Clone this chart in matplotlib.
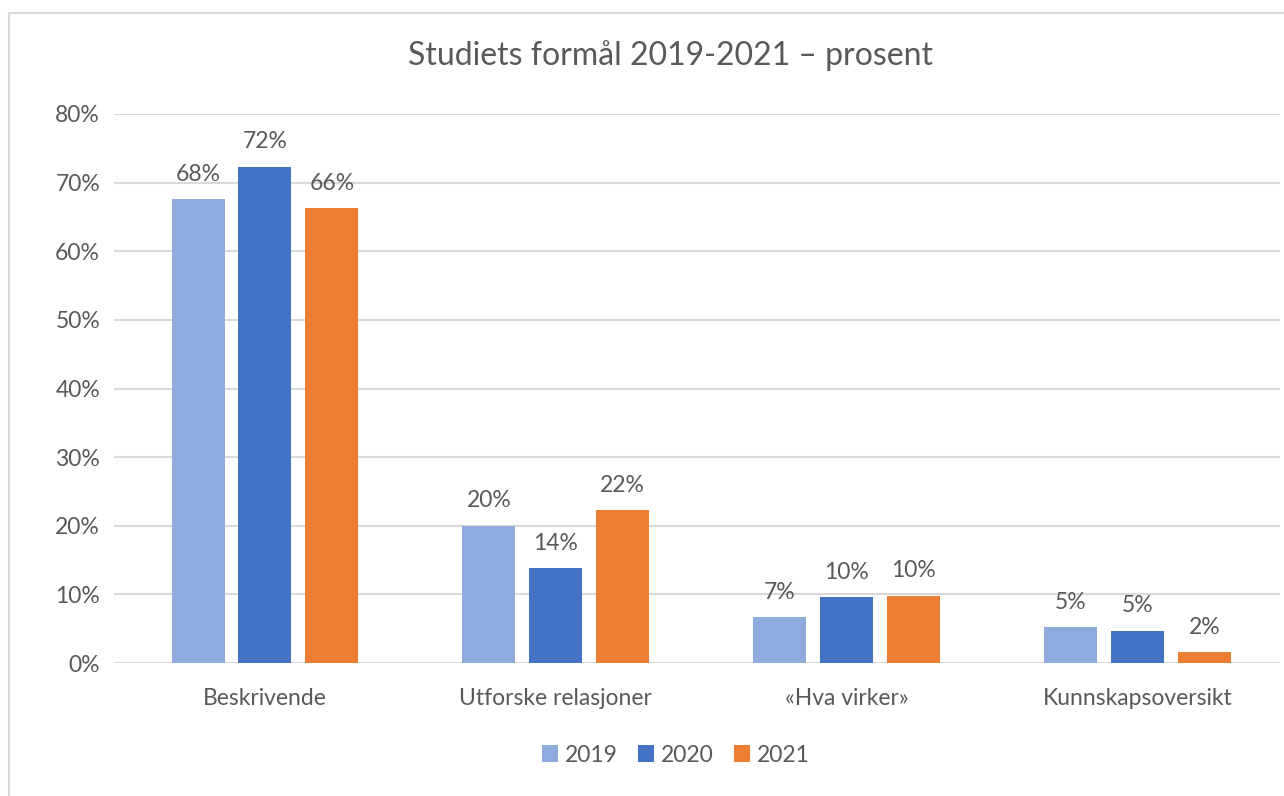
import numpy as np
import matplotlib.pyplot as plt
from matplotlib.patches import Rectangle

plt.rcParams['font.family'] = ['Lato', 'DejaVu Sans']

# Data (share of studies)
categories = ['Beskrivende', 'Utforske relasjoner', '«Hva virker»', 'Kunnskapsoversikt']
years = ['2019', '2020', '2021']
v2019 = [0.676, 0.200, 0.067, 0.052]
v2020 = [0.723, 0.138, 0.096, 0.047]
v2021 = [0.663, 0.223, 0.098, 0.016]
colors = ['#8faadc', '#4472c4', '#ed7d31']

W, H = 1284, 796
fig = plt.figure(figsize=(W / 100, H / 100), dpi=100)

# outer chart border (cut off at right/bottom like the screenshot)
fig.patches.append(Rectangle((9 / W, -0.01), 1.1, 1 - 13 / H + 0.01, transform=fig.transFigure,
                             fill=False, edgecolor='#d9d9d9', linewidth=1.5))

ax = fig.add_axes([114 / W, 1 - 663 / H, 1166 / W, (663 - 114) / H])

text_col = '#595959'
fs = 16.5
x = np.arange(len(categories))
bw = 0.182
step = 0.23
for i, (vals, yr) in enumerate(zip([v2019, v2020, v2021], years)):
    pos = x + (i - 1) * step
    ax.bar(pos, vals, width=bw, color=colors[i], label=yr, zorder=3)
    for p, v in zip(pos, vals):
        ax.text(p, v + 0.021, f'{round(v * 100):.0f}%', ha='center', va='bottom',
                fontsize=fs, color=text_col)

ax.set_xlim(-0.519, 3.49)
ax.set_ylim(0, 0.8)
ax.set_yticks(np.arange(0, 0.81, 0.1))
ax.set_yticklabels([f'{int(t)}%' for t in np.arange(0, 81, 10)])
ax.set_xticks(x)
ax.set_xticklabels(categories)
ax.tick_params(axis='both', length=0, labelsize=fs, colors=text_col)
ax.tick_params(axis='y', pad=10)
ax.tick_params(axis='x', pad=18)
ax.grid(axis='y', color='#d9d9d9', linewidth=1.5, zorder=0)
for s in ax.spines.values():
    s.set_visible(False)

fig.text(671 / W, 1 - 56 / H, 'Studiets formål 2019-2021 – prosent', ha='center', va='center',
         fontsize=23, color=text_col)

fig.legend(loc='center', bbox_to_anchor=(676 / W, 1 - 755 / H), ncol=3, frameon=False,
           fontsize=fs, labelcolor=text_col, handlelength=0.7, handleheight=0.7,
           handletextpad=0.3, columnspacing=0.9)

fig.savefig('out.png', dpi=100)
